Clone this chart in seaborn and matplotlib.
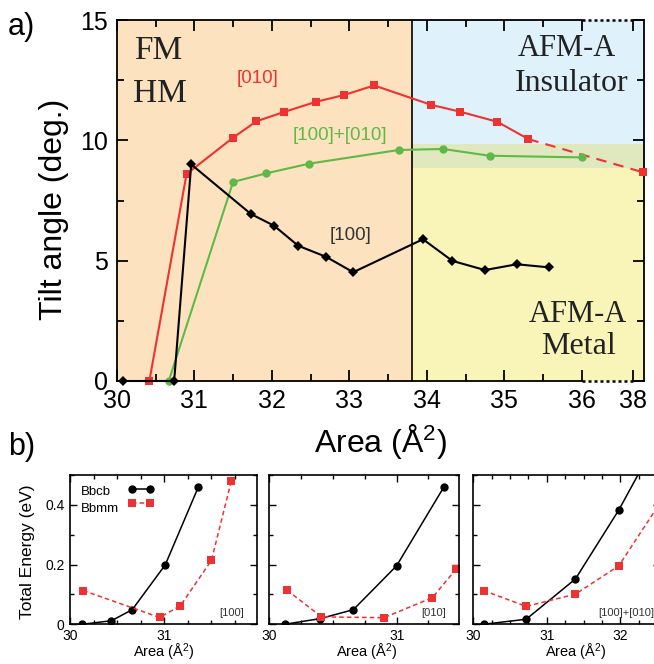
import numpy as np
import pandas as pd
import matplotlib
matplotlib.use("Agg")
import matplotlib.pyplot as plt
import seaborn as sns

# ---------------- data : panel a ----------------
a_x_010 = [30.42, 30.90, 31.50, 31.80, 32.16, 32.57, 32.93, 33.32, 34.06, 34.43, 34.91, 35.31]
a_y_010 = [0.0, 8.60, 10.11, 10.79, 11.18, 11.60, 11.88, 12.28, 11.47, 11.19, 10.77, 10.05]
a_x_010_ext = [35.31, 38.38]
a_y_010_ext = [10.05, 8.67]
a_x_mix = [30.67, 31.50, 31.93, 32.48, 33.64, 34.21, 34.81, 36.00]
a_y_mix = [0.0, 8.27, 8.63, 9.03, 9.60, 9.64, 9.36, 9.29]
a_x_100 = [30.08, 30.74, 30.96, 31.73, 32.03, 32.34, 32.70, 33.05, 33.95, 34.33, 34.75, 35.16, 35.58]
a_y_100 = [0.0, 0.0, 9.00, 6.94, 6.45, 5.62, 5.16, 4.52, 5.89, 4.99, 4.61, 4.85, 4.72]
a_xticks = [30, 31, 32, 33, 34, 35, 36, 38]
a_xtick_labels = ["30", "31", "32", "33", "34", "35", "36", "38"]
a_yticks = [0, 5, 10, 15]
a_ytick_labels = ["0", "5", "10", "15"]
phase_boundary = 33.81
metal_top = 8.86
insulator_bottom = 9.85

# ---------------- data : panel b ----------------
b_x_100_bbcb = [30.13, 30.44, 30.66, 31.01, 31.36]
b_y_100_bbcb = [0.0, 0.012, 0.049, 0.199, 0.459]
b_x_100_bbmm = [30.14, 30.95, 31.17, 31.50, 31.71]
b_y_100_bbmm = [0.113, 0.023, 0.062, 0.214, 0.479]
b_x_010_bbcb = [30.12, 30.40, 30.66, 31.00, 31.37]
b_y_010_bbcb = [0.0, 0.019, 0.049, 0.196, 0.459]
b_x_010_bbmm = [30.14, 30.41, 30.90, 31.28, 31.47]
b_y_010_bbmm = [0.114, 0.025, 0.022, 0.089, 0.186]
b_x_mix_bbcb = [30.14, 30.72, 31.39, 31.98, 32.55]
b_y_mix_bbcb = [0.0, 0.017, 0.152, 0.383, 0.64]
b_x_mix_bbmm = [30.14, 30.72, 31.39, 31.98, 32.55]
b_y_mix_bbmm = [0.113, 0.060, 0.101, 0.196, 0.41]
b_yticks = [0, 0.2, 0.4]
b_ytick_labels = ["0", "0.2", "0.4"]
b_panel_tags = ["[100]", "[010]", "[100]+[010]"]
b_series_names = ["Bbcb", "Bbmm"]

RED = "#EE3232"
GREEN = "#5EB948"
BLACK = "#000000"

sns.set_theme(style="ticks")
plt.rcParams['font.family'] = ['Liberation Sans', 'DejaVu Sans']
plt.rcParams.update({
    "axes.edgecolor": "black", "axes.linewidth": 1.3,
    "xtick.direction": "in", "ytick.direction": "in",
    "xtick.color": "black", "ytick.color": "black",
    "text.color": "black", "axes.labelcolor": "black",
    "mathtext.default": "regular",
})

W, H = 654, 664
fig = plt.figure(figsize=(W / 100, H / 100), dpi=100)


def px_axes(l, t, r, b):
    return fig.add_axes([l / W, 1 - b / H, (r - l) / W, (b - t) / H])


def ftext(x, y, s, **kw):
    fig.text(x / W, 1 - y / H, s, **kw)


# ---------------- panel a ----------------
ax = px_axes(116.8, 20, 644, 381)
BREAK, K = 36.0, 0.3327


def fwd(x):
    x = np.asarray(x, float)
    return np.where(x <= BREAK, x, BREAK + (x - BREAK) * K)


def inv(x):
    x = np.asarray(x, float)
    return np.where(x <= BREAK, x, BREAK + (x - BREAK) / K)


ax.set_xscale('function', functions=(fwd, inv))
xmin, xmax = 30.0, 38.41
ax.set_xlim(xmin, xmax)
ax.set_ylim(0, 15)

# phase backgrounds
ax.axvspan(xmin, phase_boundary, color="#FCE2BE", lw=0, zorder=0)
ax.fill_between([phase_boundary, xmax], insulator_bottom, 15, color="#DFF1FA", lw=0, zorder=0)
ax.fill_between([phase_boundary, xmax], metal_top, insulator_bottom, color="#DFE8BF", lw=0, zorder=0)
ax.fill_between([phase_boundary, xmax], 0, metal_top, color="#F9F5B8", lw=0, zorder=0)
ax.axvline(phase_boundary, color="black", lw=1.2, zorder=1)

df010 = pd.DataFrame({"x": a_x_010, "y": a_y_010})
df010e = pd.DataFrame({"x": a_x_010_ext, "y": a_y_010_ext})
dfmix = pd.DataFrame({"x": a_x_mix, "y": a_y_mix})
df100 = pd.DataFrame({"x": a_x_100, "y": a_y_100})

sns.lineplot(data=df010e, x="x", y="y", ax=ax, color=RED, lw=1.5, ls=(0, (5, 3.5)),
             marker="s", markersize=6, markeredgewidth=0, estimator=None, sort=False)
sns.lineplot(data=df010, x="x", y="y", ax=ax, color=RED, lw=1.5,
             marker="s", markersize=6, markeredgewidth=0, estimator=None, sort=False)
sns.lineplot(data=dfmix, x="x", y="y", ax=ax, color=GREEN, lw=1.5,
             marker="o", markersize=6, markeredgewidth=0, estimator=None, sort=False)
sns.lineplot(data=df100, x="x", y="y", ax=ax, color=BLACK, lw=1.5,
             marker="D", markersize=5, markeredgewidth=0, estimator=None, sort=False)
for ln in ax.lines:
    ln.set_clip_on(False)
    ln.set_zorder(3)

ax.set_xticks(a_xticks)
ax.set_xticklabels(a_xtick_labels)
ax.set_xticks([30.5, 31.5, 32.5, 33.5, 34.5, 35.5], minor=True)
ax.set_yticks(a_yticks)
ax.set_yticklabels(a_ytick_labels)
ax.set_yticks([2.5, 7.5, 12.5], minor=True)
ax.tick_params(which="both", direction="in", top=True, right=True, width=1.3)
ax.tick_params(which="major", length=8, labelsize=18)
ax.tick_params(axis="x", which="major", pad=6)
ax.tick_params(axis="y", which="major", pad=6.5)
ax.tick_params(which="minor", length=5)
ax.set_xlabel("")
ax.set_ylabel("")

# axis break: dotted spine segments between 36 and 38
for sp in ("top", "bottom"):
    ax.spines[sp].set_bounds(xmin, 36)
for yy in (0, 1):
    ax.plot([36, 38], [yy, yy], transform=ax.get_xaxis_transform(), color="black",
            lw=1.8, ls=(0, (1.2, 1.2)), clip_on=False, zorder=5)
    ax.plot([38, xmax], [yy, yy], transform=ax.get_xaxis_transform(), color="black",
            lw=1.3, clip_on=False, zorder=5)

# phase texts
serif = ['Liberation Serif', 'DejaVu Serif']
ftext(134, 59, "FM", family=serif, fontsize=24, color="#222222", va="baseline")
ftext(133, 102, "HM", family=serif, fontsize=24, color="#222222", va="baseline")
ftext(567, 56, "AFM-A", family=serif, fontsize=22, color="#222222", va="baseline", ha="center")
ftext(572, 91, "Insulator", family=serif, fontsize=23, color="#222222", va="baseline", ha="center")
ftext(578, 322, "AFM-A", family=serif, fontsize=22, color="#222222", va="baseline", ha="center")
ftext(578, 354, "Metal", family=serif, fontsize=23, color="#222222", va="baseline", ha="center")

ftext(257.5, 83, "[010]", fontsize=13.5, color=RED, ha="center", va="baseline")
ftext(340, 140, "[100]+[010]", fontsize=13.5, color=GREEN, ha="center", va="baseline")
ftext(351, 240, "[100]", fontsize=13.5, color="#333333", ha="center", va="baseline")

ftext(8, 35, "a)", fontsize=22, va="baseline")
ftext(54, 209, "Tilt angle (deg.)", fontsize=23, rotation=90, ha="center", va="center")
ftext(380, 452, "Area (Å$^2$)", fontsize=23, ha="center", va="baseline")

# ---------------- panel b ----------------
ftext(8, 455, "b)", fontsize=22, va="baseline")
ftext(28, 552, "Total Energy (eV)", fontsize=12.5, rotation=90, ha="center", va="center")

b_boxes = [(70, 475, 256.7, 624.3), (269.3, 475, 459, 624.3), (473.3, 475, 660, 624.3)]
b_xlims = [(30, 31.98), (30, 31.49), (30, 32.54)]
b_xticks = [[30, 31], [30, 31], [30, 31, 32]]
b_xlabel_x = [164, 366.7, 576]
b_data = [
    (b_x_100_bbcb, b_y_100_bbcb, b_x_100_bbmm, b_y_100_bbmm),
    (b_x_010_bbcb, b_y_010_bbcb, b_x_010_bbmm, b_y_010_bbmm),
    (b_x_mix_bbcb, b_y_mix_bbcb, b_x_mix_bbmm, b_y_mix_bbmm),
]
for i, (box, xl, xt, dat, tag) in enumerate(zip(b_boxes, b_xlims, b_xticks, b_data, b_panel_tags)):
    bx = px_axes(*box)
    d1 = pd.DataFrame({"x": dat[0], "y": dat[1]})
    d2 = pd.DataFrame({"x": dat[2], "y": dat[3]})
    sns.lineplot(data=d1, x="x", y="y", ax=bx, color=BLACK, lw=1.1, marker="o",
                 markersize=6, markeredgewidth=0, estimator=None, sort=False, legend=False)
    sns.lineplot(data=d2, x="x", y="y", ax=bx, color=RED, lw=1.1, ls=(0, (3, 2)), marker="s",
                 markersize=6, markeredgewidth=0, estimator=None, sort=False, legend=False)
    bx.set_xlim(*xl)
    bx.set_ylim(0, 0.5)
    bx.set_xticks(xt)
    bx.set_xticklabels([str(v) for v in xt])
    minors = [v for v in np.arange(30.25, xl[1], 0.25) if abs(v - round(v)) > 1e-6]
    bx.set_xticks(minors, minor=True)
    bx.set_yticks(b_yticks)
    bx.set_yticks([0.1, 0.3, 0.5], minor=True)
    if i == 0:
        bx.set_yticklabels(b_ytick_labels)
    else:
        bx.set_yticklabels([])
    bx.tick_params(which="both", direction="in", top=True, right=True, width=1.0)
    bx.tick_params(which="major", length=5, labelsize=10)
    bx.tick_params(axis="x", which="major", pad=3.5)
    bx.tick_params(axis="y", which="major", pad=4)
    bx.tick_params(which="minor", length=3)
    for sp in bx.spines.values():
        sp.set_linewidth(1.2)
    bx.set_xlabel("")
    bx.set_ylabel("")
    if i == 0:
        handles = bx.lines[:2]
        bx.legend(handles, ["", ""], loc="upper left", bbox_to_anchor=(0.31, 0.94),
                  frameon=False, fontsize=9.5, numpoints=2, handlelength=2.0,
                  handletextpad=0.0, labelspacing=0.15, borderpad=0.0, borderaxespad=0.0)
        for name, yy in zip(b_series_names, (0.886, 0.772)):
            bx.text(0.057, yy, name, transform=bx.transAxes, ha="left", va="center",
                    fontsize=9.5)
    bx.text(0.93 if i < 2 else 0.97, 0.055, tag, transform=bx.transAxes, ha="right",
            va="baseline", fontsize=8, color="#333333")
    ftext(b_xlabel_x[i], 657.5, "Area (Å$^2$)", fontsize=10.5, ha="center", va="baseline")

fig.savefig("out.png", dpi=100)
